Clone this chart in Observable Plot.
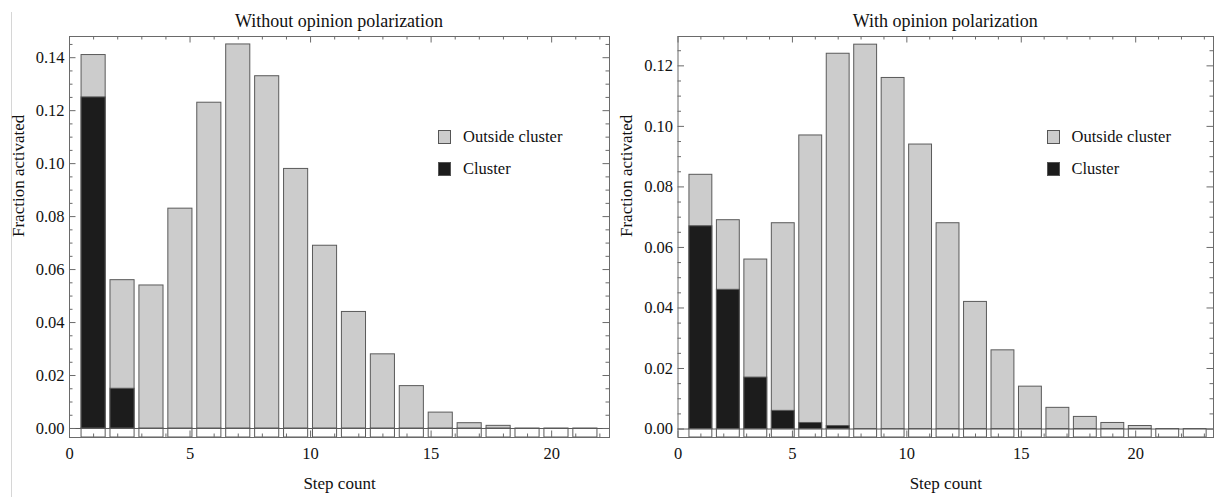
<!DOCTYPE html>
<html>
<head>
<meta charset="utf-8">
<script src="https://cdn.jsdelivr.net/npm/d3@7"></script>
<script src="https://cdn.jsdelivr.net/npm/@observablehq/plot@0.6"></script>
<style>
  body { margin: 0; background: #fff; }
  #root { position: relative; width: 1214px; height: 497px; font-family: "Liberation Serif", "Times New Roman", serif; color: #111; overflow: hidden; }
  #root svg, #root svg text { font-family: "Liberation Serif", "Times New Roman", serif !important; }
  .panel { position: absolute; top: 0; }
  .title { position: absolute; top: 10px; font-size: 18px; line-height: 22px; white-space: nowrap; transform: translateX(-50%); }
  .leg { position: absolute; font-size: 16.5px; line-height: 20px; white-space: nowrap; }
  .sw { position: absolute; width: 13px; height: 14px; box-sizing: border-box; border: 1px solid #555; }
  .border { position: absolute; left: 11px; top: 12px; width: 1px; height: 485px; background: #d6d6d6; }
</style>
</head>
<body>
<div id="root"><div class="border"></div></div>
<script>
// ---- data ----
const titles = ["Without opinion polarization", "With opinion polarization"];
const xLabel = "Step count";
const yLabel = "Fraction activated";
const legendLabels = ["Outside cluster", "Cluster"];

const leftSteps   = [1,2,3,4,5,6,7,8,9,10,11,12,13,14,15,16,17,18];
const leftTotal   = [0.141,0.056,0.054,0.083,0.123,0.145,0.133,0.098,0.069,0.044,0.028,0.016,0.006,0.002,0.001,0,0,0];
const leftCluster = [0.125,0.015,0,0,0,0,0,0,0,0,0,0,0,0,0,0,0,0];

const rightSteps   = [1,2,3,4,5,6,7,8,9,10,11,12,13,14,15,16,17,18,19];
const rightTotal   = [0.084,0.069,0.056,0.068,0.097,0.124,0.127,0.116,0.094,0.068,0.042,0.026,0.014,0.007,0.004,0.002,0.001,0,0];
const rightCluster = [0.067,0.046,0.017,0.006,0.002,0.001,0,0,0,0,0,0,0,0,0,0,0,0,0];

const xTickLabels = [0,5,10,15,20];
const leftYTicks  = [0,0.02,0.04,0.06,0.08,0.10,0.12,0.14];
const rightYTicks = [0,0.02,0.04,0.06,0.08,0.10,0.12];

// ---- styles / layout ----
const GRAY = "#cccccc", BLACK = "#1c1c1c", EDGE = "#5a5a5a", FRAME = "#6a6a6a";
const FONT = "Liberation Serif";
const H = 497, MT = 36, MB = 60;
const barGap = 0.2, barW = 1.0; // Mathematica BarChart spacing

function panel({steps, total, cluster, svgLeft, width, ml, mr, xMax, yDomain, yTicks, yMinorStep, title, legendOffset}) {
  const rows = steps.map((s, i) => ({
    step: s,
    x1: 0.5 + (s - 1) * (barW + barGap),
    x2: 0.5 + (s - 1) * (barW + barGap) + barW,
    total: total[i],
    cluster: cluster[i]
  }));
  const plotW = width - ml - mr, plotH = H - MT - MB;
  const xMinor = d3.range(0, Math.floor(xMax) + 1).filter(v => !xTickLabels.includes(v));
  const yMinor = d3.range(0, yDomain[1] + 1e-9, yMinorStep).filter(v => !yTicks.some(t => Math.abs(t - v) < 1e-9));
  const big = 6.5, small = 3.5;
  const chart = Plot.plot({
    width, height: H,
    marginLeft: ml, marginRight: mr, marginTop: MT, marginBottom: MB,
    style: {fontFamily: FONT, background: "transparent", color: "#111"},
    x: {domain: [0, xMax]},
    y: {domain: yDomain},
    marks: [
      // strip under zero
      Plot.rectY(rows, {x1: "x1", x2: "x2", y1: yDomain[0], y2: 0, fill: "white", stroke: EDGE, strokeWidth: 1}),
      Plot.rectY(rows.filter(d => d.total > 0), {x1: "x1", x2: "x2", y1: 0, y2: "total", fill: GRAY, stroke: EDGE, strokeWidth: 1}),
      Plot.rectY(rows.filter(d => d.cluster > 0), {x1: "x1", x2: "x2", y1: 0, y2: "cluster", fill: BLACK, stroke: EDGE, strokeWidth: 1}),
      Plot.ruleY([0], {stroke: EDGE, strokeWidth: 1}),
      // inward frame ticks
      Plot.ruleX(xTickLabels, {insetTop: plotH - big, stroke: FRAME}),
      Plot.ruleX(xMinor, {insetTop: plotH - small, stroke: FRAME}),
      Plot.ruleX(xTickLabels, {insetBottom: plotH - big, stroke: FRAME}),
      Plot.ruleX(xMinor, {insetBottom: plotH - small, stroke: FRAME}),
      Plot.ruleY(yTicks, {insetRight: plotW - big, stroke: FRAME}),
      Plot.ruleY(yMinor, {insetRight: plotW - small, stroke: FRAME}),
      Plot.ruleY(yTicks, {insetLeft: plotW - big, stroke: FRAME}),
      Plot.ruleY(yMinor, {insetLeft: plotW - small, stroke: FRAME}),
      Plot.frame({stroke: FRAME, strokeWidth: 1}),
      Plot.axisX({ticks: xTickLabels, tickSize: 0, tickPadding: 10, fontSize: 16.5, fontFamily: FONT, tickFormat: d3.format("d"), label: null}),
      Plot.axisY({ticks: yTicks, tickSize: 0, tickPadding: 5, fontSize: 16.5, fontFamily: FONT, tickFormat: d3.format(".2f"), label: null}),
      Plot.text([xLabel], {frameAnchor: "bottom", dy: 51, fontSize: 17, fontFamily: FONT, fill: "#111"}),
      Plot.text([yLabel], {frameAnchor: "left", dx: -51, rotate: -90, fontSize: 17, fontFamily: FONT, fill: "#111"})
    ]
  });
  const root = document.getElementById("root");
  const wrap = document.createElement("div");
  wrap.className = "panel";
  wrap.style.left = svgLeft + "px";
  wrap.appendChild(chart);
  root.appendChild(wrap);

  const t = document.createElement("div");
  t.className = "title";
  t.textContent = title;
  t.style.left = (svgLeft + ml + plotW / 2) + "px";
  root.appendChild(t);

  const lx = svgLeft + ml + legendOffset;
  [[GRAY, legendLabels[0], 130], [BLACK, legendLabels[1], 162]].forEach(([c, lab, y]) => {
    const s = document.createElement("div");
    s.className = "sw";
    s.style.left = lx + "px"; s.style.top = y + "px"; s.style.background = c;
    root.appendChild(s);
    const l = document.createElement("div");
    l.className = "leg";
    l.textContent = lab;
    l.style.left = (lx + 25) + "px"; l.style.top = (y - 3) + "px";
    root.appendChild(l);
  });
}

panel({steps: leftSteps, total: leftTotal, cluster: leftCluster, svgLeft: 0, width: 615, ml: 69, mr: 6,
       xMax: 22.4, yDomain: [-0.0034, 0.148], yTicks: leftYTicks, yMinorStep: 0.005, title: titles[0], legendOffset: 369});
panel({steps: rightSteps, total: rightTotal, cluster: rightCluster, svgLeft: 615, width: 599, ml: 62.5, mr: 1,
       xMax: 23.4, yDomain: [-0.0028, 0.1297], yTicks: rightYTicks, yMinorStep: 0.005, title: titles[1], legendOffset: 369});
</script>
</body>
</html>
